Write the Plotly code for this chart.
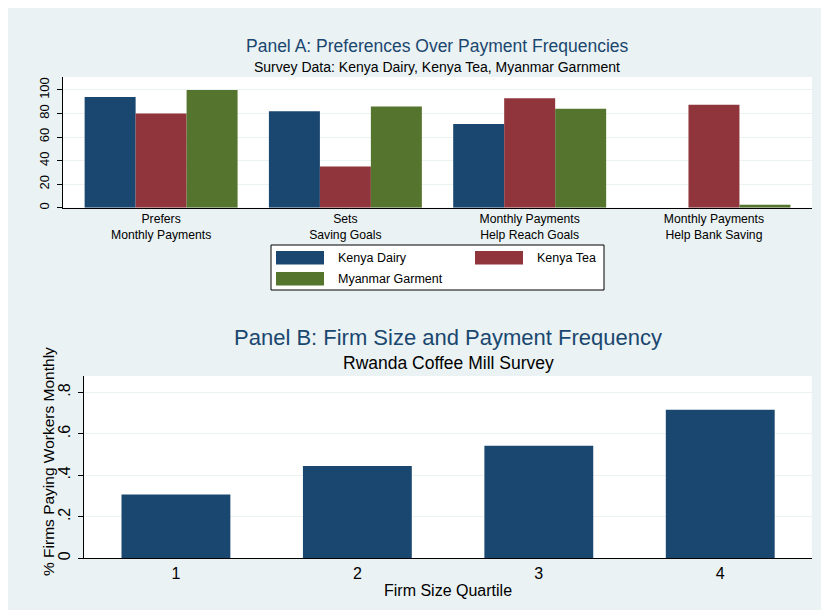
"""Two-panel Stata-style bar chart: payment frequency preferences and firm size."""
import plotly.graph_objects as go

W, H = 829, 610
OFF = 8  # page margin around the figure in the browser

# Panel A data
categories_a = ["Prefers<br>Monthly Payments", "Sets<br>Saving Goals",
                "Monthly Payments<br>Help Reach Goals", "Monthly Payments<br>Help Bank Saving"]
kenya_dairy = [94, 82, 71, None]
kenya_tea = [80, 35, 93, 87.5]
myanmar_garment = [100, 86, 84, 2.5]

# Panel B data
quartiles = [1, 2, 3, 4]
share_monthly = [0.308, 0.445, 0.543, 0.716]

NAVY = "#1A476F"
MAROON = "#90353B"
GREEN = "#55752F"
BG = "#EAF2F3"
FONT = "Liberation Sans, Arial, sans-serif"


def px_x(x):
    return (x - OFF) / W


def px_y(y):
    return 1 - (y - OFF) / H


fig = go.Figure()

series = [("Kenya Dairy", kenya_dairy, NAVY),
          ("Kenya Tea", kenya_tea, MAROON),
          ("Myanmar Garment", myanmar_garment, GREEN)]
for name, vals, col in series:
    fig.add_trace(go.Bar(
        x=list(range(len(categories_a))), y=vals, name=name,
        marker=dict(color=col, line=dict(width=0)),
        xaxis="x", yaxis="y", showlegend=False,
    ))

fig.add_trace(go.Bar(
    x=quartiles, y=share_monthly, width=0.6,
    marker=dict(color=NAVY, line=dict(width=0)),
    xaxis="x2", yaxis="y2", showlegend=False,
))

axis_common = dict(showline=True, linecolor="black", linewidth=1,
                   automargin=False, zeroline=False)

fig.update_layout(
    width=W, height=H, autosize=False,
    margin=dict(l=0, r=0, t=0, b=0),
    paper_bgcolor=BG, plot_bgcolor="white",
    font=dict(family=FONT, color="black"),
    barmode="group", bargap=0.17, bargroupgap=0,
    xaxis=dict(**axis_common, domain=[px_x(62.7), px_x(812)],
               range=[-0.534, 3.532], tickvals=list(range(4)), ticktext=categories_a,
               ticks="", showgrid=False, tickfont=dict(size=12.2), anchor="y"),
    yaxis=dict(**axis_common, domain=[px_y(207.7), px_y(77)],
               range=[0, 111], tickvals=[0, 20, 40, 60, 80, 100],
               ticks="outside", ticklen=5, tickcolor="black", tickangle=-90,
               ticklabelstandoff=3,
               tickfont=dict(size=13), showgrid=True, gridcolor=BG, gridwidth=1,
               anchor="x"),
    xaxis2=dict(**axis_common, domain=[px_x(84.3), px_x(811.7)],
                range=[0.495, 4.504], tickvals=quartiles, ticks="",
                showgrid=False, tickfont=dict(size=16), anchor="y2"),
    yaxis2=dict(**axis_common, domain=[px_y(558.3), px_y(376)],
                range=[0, 0.879], tickvals=[0, 0.2, 0.4, 0.6, 0.8],
                ticktext=["0", ".2", ".4", ".6", ".8"],
                ticks="outside", ticklen=5, tickcolor="black", tickangle=-90,
                ticklabelstandoff=2,
                tickfont=dict(size=16), showgrid=True, gridcolor=BG, gridwidth=1,
                anchor="x2"),
)

# legend box for panel A
shapes = [dict(type="rect", xref="paper", yref="paper",
               x0=px_x(271), x1=px_x(604), y0=px_y(290), y1=px_y(245),
               fillcolor="white", line=dict(color="black", width=1), layer="above")]
legend_items = [("Kenya Dairy", NAVY, 276, 251),
                ("Kenya Tea", MAROON, 475, 251),
                ("Myanmar Garment", GREEN, 276, 272)]
annotations = []
for name, col, x0, y0 in legend_items:
    shapes.append(dict(type="rect", xref="paper", yref="paper",
                       x0=px_x(x0), x1=px_x(x0 + 48), y0=px_y(y0 + 13.5), y1=px_y(y0),
                       fillcolor=col, line=dict(width=0), layer="above"))
    annotations.append(dict(text=name, xref="paper", yref="paper",
                            x=px_x(x0 + 60), y=px_y(y0 + 7), xanchor="left", yanchor="middle",
                            showarrow=False, font=dict(size=12.5, color="black")))

texts = [
    ("Panel A: Preferences Over Payment Frequencies", 437, 46, 17.5, NAVY, 0),
    ("Survey Data: Kenya Dairy, Kenya Tea, Myanmar Garnment", 437, 67, 14, "black", 0),
    ("Panel B: Firm Size and Payment Frequency", 448, 337, 22, NAVY, 0),
    ("Rwanda Coffee Mill Survey", 448, 363, 17.5, "black", 0),
    ("Firm Size Quartile", 448, 590, 16, "black", 0),
    ("% Firms Paying Workers Monthly", 48, 462, 15.5, "black", -90),
]
for t, x, y, size, col, ang in texts:
    annotations.append(dict(text=t, xref="paper", yref="paper", x=px_x(x), y=px_y(y),
                            xanchor="center", yanchor="middle", showarrow=False,
                            textangle=ang, font=dict(size=size, color=col)))

fig.update_layout(shapes=shapes, annotations=annotations)
fig.write_html("out.html")
